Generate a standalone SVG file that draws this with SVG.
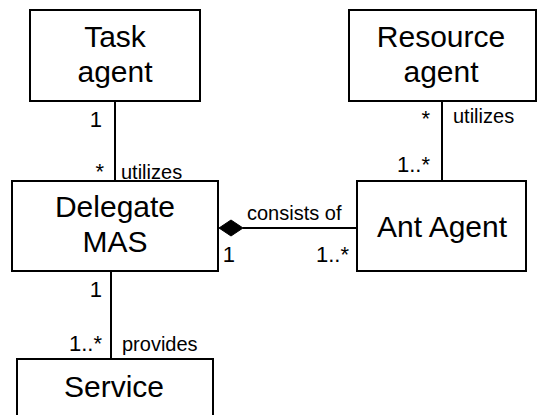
<svg xmlns="http://www.w3.org/2000/svg" width="537" height="415" viewBox="0 0 537 415">
<style>
.box{fill:#fff;stroke:#000;stroke-width:2}
.name{font-family:"Liberation Sans",Arial,sans-serif;font-size:30px;text-anchor:middle;fill:#000}
.lbl{font-family:"Liberation Sans",Arial,sans-serif;font-size:20px;fill:#000}
.mul{font-family:"Liberation Sans",Arial,sans-serif;font-size:22px;fill:#000;text-anchor:end}
.ln{stroke:#000;stroke-width:2;fill:none}
</style>
<rect width="537" height="415" fill="#fff"/>
<g id="connectors">
<line class="ln" x1="115" y1="101" x2="115" y2="181"/>
<line class="ln" x1="442" y1="101" x2="442" y2="181"/>
<line class="ln" x1="111" y1="271" x2="111" y2="359"/>
<line class="ln" x1="243" y1="228" x2="357" y2="228"/>
<polygon points="219,228 231,220 243,228 231,236" fill="#000" stroke="#000" stroke-width="1"/>
<text class="mul" x="102" y="127">1</text>
<text class="mul" x="104" y="179">*</text>
<text class="lbl" x="121" y="179">utilizes</text>
<text class="mul" x="430" y="126">*</text>
<text class="lbl" x="453" y="123">utilizes</text>
<text class="mul" x="430" y="172">1..*</text>
<text class="lbl" x="247" y="220">consists of</text>
<text class="mul" x="235" y="262">1</text>
<text class="mul" x="349" y="262">1..*</text>
<text class="mul" x="102" y="297">1</text>
<text class="mul" x="102" y="351">1..*</text>
<text class="lbl" x="122" y="351">provides</text>
</g>
<g id="task-agent">
<rect class="box" x="30" y="10" width="170" height="91"/>
<text class="name" x="115" y="47">Task</text>
<text class="name" x="115" y="82">agent</text>
</g>
<g id="resource-agent">
<rect class="box" x="349" y="10" width="187" height="91"/>
<text class="name" x="441" y="47">Resource</text>
<text class="name" x="441" y="82">agent</text>
</g>
<g id="delegate-mas">
<rect class="box" x="12" y="181" width="206" height="90"/>
<text class="name" x="115" y="217">Delegate</text>
<text class="name" x="115" y="252">MAS</text>
</g>
<g id="ant-agent">
<rect class="box" x="357" y="181" width="169" height="90"/>
<text class="name" x="442" y="237">Ant Agent</text>
</g>
<g id="service">
<rect class="box" x="17" y="359" width="196" height="80"/>
<text class="name" x="114" y="397">Service</text>
</g>
</svg>
